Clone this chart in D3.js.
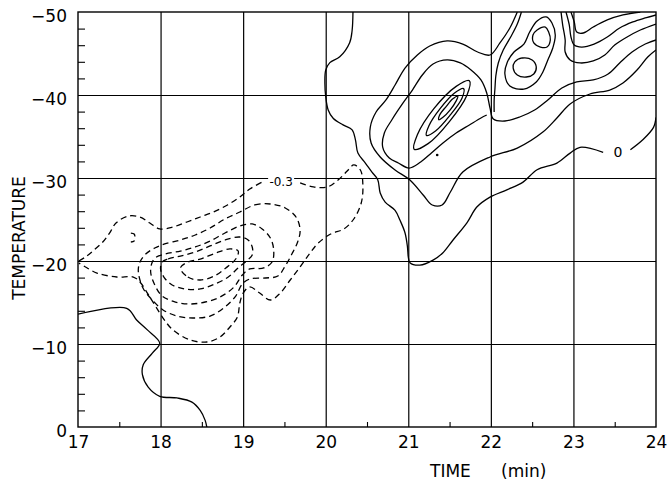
<!DOCTYPE html>
<html>
<head>
<meta charset="utf-8">
<script src="https://cdn.jsdelivr.net/npm/d3@7"></script>
<style>
  body { margin: 0; background: #fff; }
  svg { display: block; }
  text { font-family: "DejaVu Sans", sans-serif; fill: #000; }
</style>
</head>
<body>
<div id="chart"></div>
<script>
// axis values
const timeTicks = [17, 18, 19, 20, 21, 22, 23, 24];
const timeMinor = [17.5, 18.5, 19.5, 20.5, 21.5, 22.5, 23.5];
const tempTicks = [0, -10, -20, -30, -40, -50];
const tempMinor = [-2, -4, -6, -8, -12, -14, -16, -18, -22, -24, -26, -28,
                   -32, -34, -36, -38, -42, -44, -46, -48];

// solid contours, [time, temperature]
const zeroLowerLeft = [[17,-13.6],[17.59,-14.3],[17.71,-12.9],[17.84,-11.7],[17.99,-10.1],[17.9,-8.9],
  [17.79,-7.5],[17.78,-6.3],[17.85,-4.8],[17.99,-3.7],[18.2,-3.5],[18.38,-3.0],[18.48,-2.0],[18.54,-0.8],[18.56,0]];
const zeroMain = [[20.33,-50],[20.32,-47.8],[20.29,-46.3],[20.17,-44.6],[20.05,-43.9],[20.0,-43.0],[19.99,-41.4],
  [20.0,-39.8],[20.03,-38.2],[20.09,-37.2],[20.21,-36.4],[20.32,-35.8],[20.36,-34.6],[20.39,-33.0],[20.48,-31.8],
  [20.56,-30.7],[20.63,-29.8],[20.66,-28.2],[20.72,-27.1],[20.84,-26.1],[20.9,-24.9],[20.96,-23.4],[20.99,-21.7],
  [21.0,-20.5],[21.02,-19.8],[21.14,-19.5],[21.3,-20.1],[21.42,-21.0],[21.54,-22.5],[21.71,-24.6],[21.83,-26.5],
  [21.99,-27.7],[22.2,-28.6],[22.39,-29.5],[22.56,-31.0],[22.8,-31.8],[22.96,-33.0],[23.08,-33.7],[23.36,-33.1]];
const zeroMainEnd = [[23.69,-33.4],[23.84,-34.6],[23.97,-36.1],[24.0,-37.3]];
const ridgeOuter = [[22.32,-50],[22.23,-48.07],[22.11,-46.27],[21.99,-44.82],[21.84,-45.18],[21.66,-46.14],
  [21.47,-46.51],[21.26,-45.9],[21.11,-44.82],[20.96,-43.25],[20.84,-41.2],[20.73,-39.4],[20.61,-37.95],
  [20.54,-36.14],[20.55,-34.22],[20.66,-32.53],[20.84,-30.96],[21.02,-29.76],[21.18,-27.95],[21.29,-26.75],
  [21.41,-26.75],[21.51,-28.31],[21.66,-30.72],[21.99,-32.53],[22.32,-33.61],[22.63,-35.54],[22.8,-37.23],
  [22.96,-38.92],[23.2,-40.12],[23.44,-40.6],[23.6,-41.45],[23.77,-43.01],[23.9,-44.58],[24.0,-45.42]];
const ridgeInner = [[24.0,-46.63],[23.87,-46.14],[23.71,-45.18],[23.56,-43.86],[23.42,-42.53],[23.24,-41.81],
  [23.04,-41.57],[22.86,-40.84],[22.69,-39.4],[22.53,-38.19],[22.35,-37.35],[22.17,-36.87],[22.03,-37.11],
  [21.99,-38.43],[21.95,-40.24],[21.88,-41.81],[21.76,-43.01],[21.63,-43.86],[21.47,-44.22],[21.3,-43.73],
  [21.17,-42.41],[21.05,-40.6],[20.92,-38.8],[20.8,-36.99],[20.71,-35.42],[20.69,-33.73],[20.77,-32.41],
  [20.88,-31.81],[21.01,-31.2],[21.15,-31.93],[21.28,-33.01],[21.42,-34.22],[21.58,-35.42],[21.74,-36.39],
  [21.88,-37.23],[21.95,-37.59]];
const ridgeNeck = [[22.04,-37.95],[22.04,-39.4],[22.05,-40.84],[22.06,-42.29],[22.09,-43.86],[22.15,-45.42],
  [22.24,-46.99],[22.32,-48.55],[22.37,-50]];
const twinOuter = [[22.23,-41.08],[22.17,-42.53],[22.2,-43.98],[22.28,-45.18],[22.4,-46.14],[22.47,-47.59],
  [22.56,-48.92],[22.67,-49.4],[22.74,-48.67],[22.78,-47.23],[22.75,-45.66],[22.69,-44.22],[22.63,-42.77],
  [22.55,-41.57],[22.4,-40.72]];
const twinLow = [[22.29,-43.98],[22.38,-44.46],[22.5,-44.22],[22.55,-43.37],[22.52,-42.53],[22.43,-42.17],
  [22.32,-42.41],[22.27,-43.25]];
const twinHigh = [[22.56,-47.83],[22.66,-48.19],[22.7,-47.59],[22.72,-46.63],[22.68,-45.78],[22.6,-45.78],
  [22.52,-46.27],[22.51,-47.23]];
const peakRing1 = [[21.07,-33.46],[21.24,-34.14],[21.5,-36.83],[21.71,-39.98],[21.74,-41.72],[21.58,-41.04],
  [21.31,-38.35],[21.11,-35.2]];
const peakRing2 = [[21.22,-35.13],[21.33,-35.66],[21.5,-37.49],[21.65,-39.61],[21.67,-40.77],[21.56,-40.24],
  [21.39,-38.41],[21.25,-36.29]];
const peakRing3 = [[21.37,-37.02],[21.42,-37.31],[21.51,-38.24],[21.58,-39.29],[21.6,-39.84],[21.54,-39.55],
  [21.46,-38.63],[21.38,-37.58]];
const cusp1 = [[22.97,-50],[23.01,-48.8],[23.04,-47.59],[23.12,-47.47],[23.24,-48.19],[23.41,-49.04],
  [23.6,-49.64],[23.81,-50]];
const cusp2 = [[22.91,-50],[22.95,-48.43],[22.97,-46.99],[23.01,-46.02],[23.1,-45.78],[23.25,-46.14],
  [23.41,-46.99],[23.56,-48.07],[23.72,-48.8],[23.87,-49.28],[24.0,-49.64]];
const cusp3 = [[22.85,-50],[22.87,-48.43],[22.9,-46.63],[22.9,-45.18],[22.96,-44.22],[23.08,-43.86],
  [23.24,-44.1],[23.38,-44.82],[23.5,-46.02],[23.65,-46.99],[23.81,-47.83],[24.0,-48.55]];
const peakDot = [21.35, -32.77];

// dashed (negative) contours
const negOuterA = [[17.01,-20.0],[17.09,-20.48],[17.18,-21.2],[17.3,-22.29],[17.39,-23.49],[17.46,-24.58],
  [17.61,-25.42],[17.75,-25.3],[17.87,-24.58],[17.99,-23.86],[18.15,-24.1],[18.32,-24.7],[18.48,-25.3],
  [18.64,-25.9],[18.81,-26.75],[18.96,-27.71],[19.08,-28.67],[19.23,-29.52]];
const negOuterB = [[19.69,-29.4],[19.85,-28.92],[20.02,-28.92],[20.15,-29.76],[20.26,-30.84],[20.34,-31.57],
  [20.42,-30.96],[20.45,-29.16],[20.43,-26.99],[20.34,-25.06],[20.22,-23.86],[20.06,-23.25],[19.91,-22.17],
  [19.81,-20.96],[19.69,-19.28],[19.57,-17.71],[19.45,-16.14],[19.33,-15.3],[19.2,-16.14],[19.08,-16.87],
  [19.0,-16.14],[18.96,-14.94],[18.93,-13.25],[18.84,-12.05],[18.72,-10.84],[18.56,-10.24],[18.36,-10.48],
  [18.15,-11.69],[18.03,-13.13],[17.93,-14.7],[17.84,-16.14],[17.75,-17.47],[17.67,-18.07],[17.47,-18.07],
  [17.23,-18.55],[17.09,-19.28],[17.01,-19.76]];
const negRing1 = [[18.96,-25.9],[19.14,-26.75],[19.33,-26.87],[19.51,-26.39],[19.64,-25.3],[19.69,-23.73],
  [19.66,-22.29],[19.59,-20.84],[19.51,-19.4],[19.42,-18.19],[19.27,-17.95],[19.08,-17.83],[18.99,-17.23],
  [18.91,-15.78],[18.78,-14.46],[18.6,-13.37],[18.39,-13.13],[18.2,-13.37],[18.03,-14.1],[17.9,-15.3],
  [17.8,-16.51],[17.75,-17.71],[17.73,-18.92],[17.75,-19.88],[17.82,-20.84],[17.93,-21.57],[18.05,-22.05],
  [18.24,-22.53],[18.42,-23.13],[18.6,-23.98],[18.78,-25.06]];
const negRing2 = [[17.9,-19.88],[17.95,-20.48],[18.05,-20.84],[18.24,-21.2],[18.42,-21.69],[18.6,-22.41],
  [18.78,-23.37],[18.96,-24.22],[19.11,-24.46],[19.23,-23.86],[19.33,-22.77],[19.37,-21.33],[19.35,-19.88],
  [19.25,-19.16],[19.08,-19.04],[18.99,-18.31],[18.89,-16.87],[18.72,-15.66],[18.54,-15.06],[18.36,-14.82],
  [18.18,-15.06],[18.02,-15.78],[17.93,-17.11],[17.88,-18.67]];
const negRing3 = [[18.02,-19.88],[18.09,-20.24],[18.24,-20.6],[18.42,-21.08],[18.6,-21.81],[18.78,-22.53],
  [18.96,-22.89],[19.06,-22.53],[19.11,-21.69],[19.11,-20.72],[19.04,-20.0],[18.94,-19.16],[18.82,-18.07],
  [18.66,-17.23],[18.48,-16.63],[18.3,-16.63],[18.14,-17.11],[18.04,-18.07],[18.0,-19.04]];
const negRing4 = [[18.24,-19.16],[18.33,-18.07],[18.48,-17.71],[18.65,-18.19],[18.79,-19.16],[18.91,-20.24],
  [18.94,-21.2],[18.84,-21.45],[18.67,-20.96],[18.48,-20.24],[18.33,-19.88]];
const negSmall = [[17.64,-23.37],[17.68,-23.25],[17.69,-22.77],[17.68,-22.41],[17.64,-22.29]];

// contour labels
const negLabel = {text: "-0.3", at: [19.46, -29.52]};
const zeroLabel = {text: "0", at: [23.54, -33.1]};

const width = 668, height = 487;
const margin = {top: 12, right: 12, bottom: 60, left: 78};

const svg = d3.select("#chart").append("svg")
  .attr("width", width)
  .attr("height", height);

const x = d3.scaleLinear().domain([17, 24]).range([margin.left, width - margin.right]);
const y = d3.scaleLinear().domain([0, -50]).range([height - margin.bottom, margin.top]);

const plotH = y(0) - y(-50);
const plotW = x(24) - x(17);

// grid lines
svg.append("g")
  .attr("transform", `translate(0,${y(0)})`)
  .call(d3.axisBottom(x).tickValues(timeTicks.slice(1, -1)).tickSize(-plotH).tickFormat(""))
  .call(g => g.select(".domain").remove())
  .selectAll("line").attr("stroke", "#000").attr("stroke-width", 1.2);

svg.append("g")
  .attr("transform", `translate(${x(17)},0)`)
  .call(d3.axisLeft(y).tickValues(tempTicks.slice(1, -1)).tickSize(-plotW).tickFormat(""))
  .call(g => g.select(".domain").remove())
  .selectAll("line").attr("stroke", "#000").attr("stroke-width", 1.2);

// minor ticks
svg.append("g")
  .attr("transform", `translate(0,${y(0)})`)
  .call(d3.axisBottom(x).tickValues(timeMinor).tickSize(-5).tickFormat(""))
  .call(g => g.select(".domain").remove())
  .selectAll("line").attr("stroke", "#000").attr("stroke-width", 1.1);

svg.append("g")
  .attr("transform", `translate(${x(17)},0)`)
  .call(d3.axisLeft(y).tickValues(tempMinor).tickSize(-7).tickFormat(""))
  .call(g => g.select(".domain").remove())
  .selectAll("line").attr("stroke", "#000").attr("stroke-width", 1.1);

// tick labels
const xAx = svg.append("g")
  .attr("transform", `translate(0,${y(0)})`)
  .call(d3.axisBottom(x).tickValues(timeTicks).tickSize(0).tickPadding(9).tickFormat(d3.format("d")));
xAx.select(".domain").remove();
xAx.attr("font-family", null).attr("font-size", null);
xAx.selectAll("text").style("font-size", "17px");

const yAx = svg.append("g")
  .attr("transform", `translate(${x(17)},0)`)
  .call(d3.axisLeft(y).tickValues(tempTicks).tickSize(0).tickPadding(11).tickFormat(d3.format("d")));
yAx.select(".domain").remove();
yAx.attr("font-family", null).attr("font-size", null);
yAx.selectAll("text").style("font-size", "17px").attr("dy", "0.56em");

// frame
svg.append("rect")
  .attr("x", x(17)).attr("y", y(-50))
  .attr("width", plotW).attr("height", plotH)
  .attr("fill", "none").attr("stroke", "#000").attr("stroke-width", 1.4);

// axis titles
const tt = svg.append("text").attr("y", 477).style("font-size", "17px");
tt.append("tspan").attr("x", 430).text("TIME");
tt.append("tspan").attr("x", 501).text("(min)");

svg.append("text")
  .attr("transform", "translate(25,238) rotate(-90)")
  .attr("text-anchor", "middle")
  .style("font-size", "17px")
  .text("TEMPERATURE");

// contours
svg.append("clipPath").attr("id", "plotclip")
  .append("rect").attr("x", x(17)).attr("y", y(-50)).attr("width", plotW).attr("height", plotH);

const cg = svg.append("g").attr("clip-path", "url(#plotclip)");

const openLine = d3.line().x(d => x(d[0])).y(d => y(d[1])).curve(d3.curveCatmullRom.alpha(0.5));
const closedLine = d3.line().x(d => x(d[0])).y(d => y(d[1])).curve(d3.curveCatmullRomClosed.alpha(0.5));

const solidOpen = [zeroLowerLeft, zeroMain, zeroMainEnd, ridgeOuter, ridgeInner, ridgeNeck, cusp1, cusp2, cusp3];
const solidClosed = [twinOuter, twinLow, twinHigh, peakRing1, peakRing2, peakRing3];
const dashedOpen = [negOuterA, negOuterB, negSmall];
const dashedClosed = [negRing1, negRing2, negRing3, negRing4];

cg.selectAll(".so").data(solidOpen).join("path")
  .attr("d", openLine).attr("fill", "none").attr("stroke", "#000").attr("stroke-width", 1.3);
cg.selectAll(".sc").data(solidClosed).join("path")
  .attr("d", closedLine).attr("fill", "none").attr("stroke", "#000").attr("stroke-width", 1.3);
cg.selectAll(".do").data(dashedOpen).join("path")
  .attr("d", openLine).attr("fill", "none").attr("stroke", "#000").attr("stroke-width", 1.3)
  .attr("stroke-dasharray", "6,4");
cg.selectAll(".dc").data(dashedClosed).join("path")
  .attr("d", closedLine).attr("fill", "none").attr("stroke", "#000").attr("stroke-width", 1.3)
  .attr("stroke-dasharray", "6,4");

cg.append("circle")
  .attr("cx", x(peakDot[0])).attr("cy", y(peakDot[1]))
  .attr("r", 1.3).attr("fill", "#000");

// contour labels
svg.append("rect")
  .attr("x", x(negLabel.at[0]) - 13).attr("y", y(negLabel.at[1]) - 7)
  .attr("width", 26).attr("height", 12).attr("fill", "#fff");
svg.append("text")
  .attr("x", x(negLabel.at[0])).attr("y", y(negLabel.at[1]))
  .attr("text-anchor", "middle").attr("dy", "0.35em")
  .style("font-size", "12px")
  .text(negLabel.text);

svg.append("text")
  .attr("x", x(zeroLabel.at[0])).attr("y", y(zeroLabel.at[1]))
  .attr("text-anchor", "middle").attr("dy", "0.35em")
  .style("font-size", "14px")
  .text(zeroLabel.text);
</script>
</body>
</html>
